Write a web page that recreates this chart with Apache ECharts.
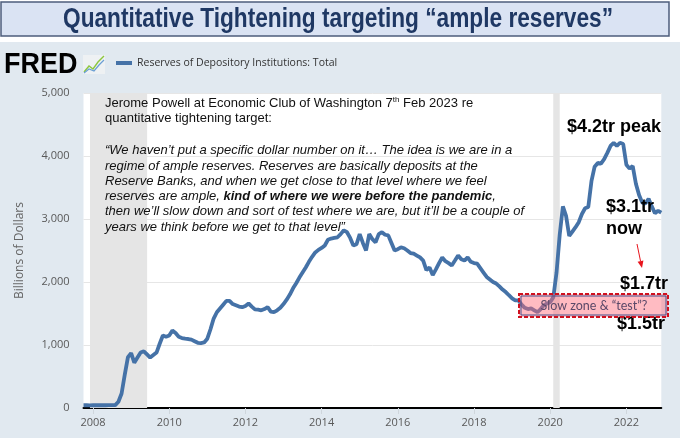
<!DOCTYPE html>
<html>
<head>
<meta charset="utf-8">
<script src="https://cdn.jsdelivr.net/npm/echarts@6/dist/echarts.min.js"></script>
<style>html,body{margin:0;padding:0;background:#fff}#c{width:680px;height:438px}</style>
</head>
<body>
<div id="c"></div>
<script>
// ---- data (Billions of Dollars, monthly, Oct 2007 – Dec 2022) ----
const startYear = 2007, startMonth = 10;
const reserves = [
  44, 44, 43,
  44, 44, 44, 44, 44, 45, 45, 46, 100, 230, 530, 807,
  870, 720, 800, 880, 900, 850, 800, 840, 880, 1020, 1150, 1130,
  1150, 1230, 1190, 1130, 1110, 1100, 1095, 1085, 1060, 1035, 1030, 1040,
  1100, 1250, 1420, 1520, 1580, 1640, 1700, 1700, 1650, 1630, 1610, 1600,
  1620, 1660, 1610, 1566, 1560, 1550, 1570, 1600, 1530, 1520, 1550, 1590,
  1650, 1720, 1800, 1900, 1980, 2070, 2150, 2230, 2320, 2400, 2470, 2510,
  2540, 2580, 2670, 2690, 2700, 2710, 2760, 2820, 2790, 2700, 2580, 2600,
  2760, 2620, 2500, 2760, 2680, 2630, 2760, 2790, 2750, 2740, 2620, 2500,
  2520, 2550, 2535, 2500, 2460, 2450, 2420, 2390, 2340, 2190, 2230, 2110,
  2200, 2300, 2390, 2330, 2300, 2263, 2340, 2420, 2360, 2340, 2390, 2320,
  2300, 2290, 2220, 2150, 2080, 2040, 2000, 1975, 1930, 1880, 1840, 1790,
  1741, 1709, 1709, 1640, 1590, 1570, 1580, 1550, 1520, 1570, 1630, 1660,
  1680, 1760, 2150, 2750, 3200, 3050, 2730, 2800, 2870, 2950, 3080, 3170,
  3190, 3600, 3830, 3890, 3880, 3950, 4050, 4160, 4210, 4160, 4210, 4190,
  3860, 3800, 3840, 3560, 3380, 3260, 3245, 3320, 3200, 3090, 3130, 3100
];
const recessions = [[2007.92, 2009.42], [2020.08, 2020.25]];
const xTickYears = [2008, 2010, 2012, 2014, 2016, 2018, 2020, 2022];
const yTicks = [0, 1000, 2000, 3000, 4000, 5000];

const titleText = 'Quantitative Tightening targeting \u201Cample reserves\u201D';
const legendText = 'Reserves of Depository Institutions: Total';
const yName = 'Billions of Dollars';
const quoteLines = [
  '\u201CWe haven\u2019t put a specific dollar number on it\u2026 The idea is we are in a',
  'regime of ample reserves. Reserves are basically deposits at the',
  'Reserve Banks, and when we get close to that level where we feel',
  'reserves are ample, {b|kind of where we were before the pandemic},',
  'then we\u2019ll slow down and sort of test where we are, but it\u2019ll be a couple of',
  'years we think before we get to that level\u201D'
];

// ---- build ----
const points = reserves.map((v, i) => [startYear + (startMonth - 1) / 12 + i / 12, v]);

const titleFont = 'bold 27px "Liberation Sans"';
const ctx = document.createElement('canvas').getContext('2d');
ctx.font = titleFont;
const titleScale = 550 / ctx.measureText(titleText).width;

const chart = echarts.init(document.getElementById('c'), null, {renderer: 'canvas'});
const QF = '"Liberation Sans", Arial, sans-serif';
const quoteY = [150, 166, 181, 196, 211, 227];

const graphics = [
  {type: 'rect', z: 1, shape: {x: 0, y: 0, width: 680, height: 42}, style: {fill: '#ffffff'}},
  {type: 'rect', z: 2, shape: {x: 1, y: 2, width: 668, height: 34}, style: {fill: '#dae3f3', stroke: '#4d5d7c', lineWidth: 1.5}},
  {type: 'text', z: 3, x: 338, y: 19.5, scaleX: titleScale, style: {text: titleText, fill: '#1f3864', align: 'center', verticalAlign: 'middle',
      font: titleFont}},
  // FRED logo
  {type: 'text', z: 3, x: 4, y: 65, scaleX: 0.93, style: {text: 'FRED', fill: '#000', verticalAlign: 'middle', font: 'bold 29px "Liberation Sans"'}},
  {type: 'rect', z: 3, shape: {x: 83, y: 55, width: 22, height: 19}, style: {fill: '#eef1f3'}},
  {type: 'polyline', z: 4, shape: {points: [[84, 72], [89, 66], [93, 69], [98, 62], [104, 56]]}, style: {stroke: '#8cc63f', lineWidth: 1.4, fill: null}},
  {type: 'polyline', z: 4, shape: {points: [[84, 73], [89, 69], [94, 71], [99, 65], [104, 60]]}, style: {stroke: '#6a9fd4', lineWidth: 1.2, fill: null}},
  // legend
  {type: 'line', z: 3, shape: {x1: 116, y1: 63, x2: 132, y2: 63}, style: {stroke: '#4572a7', lineWidth: 4}},
  {type: 'text', z: 3, x: 137, y: 63, style: {text: legendText, fill: '#333', verticalAlign: 'middle', font: '10.5px "Open Sans"'}},
  // Powell quote
  {type: 'text', z: 100, x: 105, y: 103, style: {
      text: 'Jerome Powell at Economic Club of Washington 7{sup|th} Feb 2023 re', fill: '#111', verticalAlign: 'middle',
      font: '13px ' + QF, lineHeight: 15,
      rich: {sup: {fontSize: 8, fontFamily: QF, verticalAlign: 'top', lineHeight: 15, fill: '#111'}}}},
  {type: 'text', z: 100, x: 105, y: 118, style: {text: 'quantitative tightening target:', fill: '#111', verticalAlign: 'middle', font: '13px ' + QF}}
];
quoteLines.forEach((t, i) => {
  graphics.push({type: 'text', z: 100, x: 105, y: quoteY[i], style: {
    text: t, fill: '#111', verticalAlign: 'middle', font: 'italic 13px ' + QF,
    rich: {b: {fontStyle: 'italic', fontWeight: 'bold', fontSize: 13, fontFamily: QF, fill: '#111'}}}});
});
const bigFont = 'bold 18px ' + QF;
graphics.push(
  {type: 'text', z: 100, x: 567, y: 127, style: {text: '$4.2tr peak', fill: '#000', verticalAlign: 'middle', font: bigFont}},
  {type: 'text', z: 100, x: 606, y: 207, style: {text: '$3.1tr', fill: '#000', verticalAlign: 'middle', font: bigFont}},
  {type: 'text', z: 100, x: 606, y: 229, style: {text: 'now', fill: '#000', verticalAlign: 'middle', font: bigFont}},
  {type: 'text', z: 100, x: 620, y: 284, style: {text: '$1.7tr', fill: '#000', verticalAlign: 'middle', font: bigFont}},
  {type: 'text', z: 100, x: 617, y: 324, style: {text: '$1.5tr', fill: '#000', verticalAlign: 'middle', font: bigFont}},
  {type: 'line', z: 100, shape: {x1: 637, y1: 244, x2: 640.5, y2: 261}, style: {stroke: '#e8141c', lineWidth: 1}},
  {type: 'polygon', z: 100, shape: {points: [[642, 268], [637.6, 261.8], [643.4, 260.6]]}, style: {fill: '#e8141c'}},
  {type: 'rect', z: 100, shape: {x: 519, y: 294, width: 149, height: 23}, style: {fill: 'rgba(255,105,120,0.45)', stroke: '#d0101e', lineWidth: 2, lineDash: [4, 2]}},
  {type: 'rect', z: 101, shape: {x: 521, y: 296, width: 145, height: 19}, style: {fill: null, stroke: '#44508c', lineWidth: 1}},
  {type: 'text', z: 102, x: 594, y: 306, style: {text: 'Slow zone & \u201Ctest\u201D?', fill: '#5a4868', align: 'center', verticalAlign: 'middle', font: '12.5px Lato'}}
);

chart.setOption({
  backgroundColor: '#e1e9f0',
  animation: false,
  grid: {left: 83.5, width: 577.8, top: 93, bottom: 30, show: true, backgroundColor: '#ffffff', borderWidth: 0},
  xAxis: {
    type: 'value', min: 'dataMin', max: 'dataMax',
    axisLine: {show: true, onZero: false, lineStyle: {color: '#000', width: 2}},
    axisTick: {show: true, customValues: xTickYears, length: 6, lineStyle: {color: '#cfd6dc'}},
    axisLabel: {customValues: xTickYears, formatter: v => String(Math.round(v)), color: '#595959', fontFamily: 'Open Sans', fontSize: 11, margin: 9},
    splitLine: {show: false}
  },
  yAxis: {
    type: 'value', min: 0, max: 5000, interval: 1000,
    name: yName, nameLocation: 'middle', nameGap: 58,
    nameTextStyle: {color: '#666', fontFamily: 'Open Sans', fontSize: 12},
    axisLine: {show: false}, axisTick: {show: false},
    axisLabel: {customValues: yTicks, formatter: v => v.toLocaleString('en-US'), color: '#595959', fontFamily: 'Open Sans', fontSize: 11, margin: 14},
    splitLine: {lineStyle: {color: '#e6e6e6', width: 1}}
  },
  series: [{
    type: 'line', data: points, showSymbol: false, z: 5,
    lineStyle: {color: '#4572a7', width: 3.8}, itemStyle: {color: '#4572a7'},
    markArea: {silent: true, itemStyle: {color: '#e5e5e5'},
      data: recessions.map(r => [{xAxis: r[0]}, {xAxis: r[1]}])}
  }],
  graphic: graphics
});
</script>
</body>
</html>
